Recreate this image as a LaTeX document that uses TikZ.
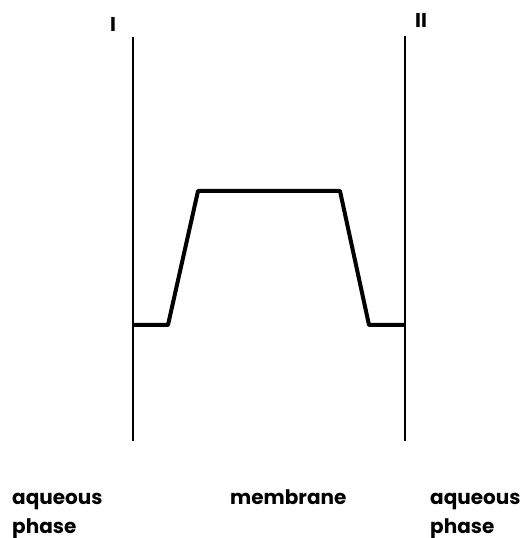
\documentclass[tikz,border=0pt]{standalone}
\usepackage{fontspec}
\setmainfont{Poppins}
\begin{document}
\begin{tikzpicture}[x=1pt,y=1pt,
  wall/.style={line width=2.4pt},
  profile/.style={line width=4pt,line join=round},
  lbl/.style={font=\fontsize{20}{24}\selectfont\bfseries,inner sep=0pt,anchor=base west,align=left},
  num/.style={font=\fontsize{20}{24}\selectfont\bfseries,inner sep=0pt,anchor=base}]
\useasboundingbox (0,0) rectangle (525,538);
% walls
\coordinate (Lt) at (133,501);
\coordinate (Lb) at (133,97);
\coordinate (Rt) at (405,502);
\coordinate (Rb) at (405,97);
\draw[wall] (Lt) -- (Lb);
\draw[wall] (Rt) -- (Rb);
% energy profile
\coordinate (p1) at (133,213);
\coordinate (p2) at (168,213);
\coordinate (p3) at (198,347);
\coordinate (p4) at (340,347);
\coordinate (p5) at (369,213);
\coordinate (p6) at (405,213);
\draw[profile] (p1) -- (p2) -- (p3) -- (p4) -- (p5) -- (p6);
% labels
\node[num] (nI) at (113,506) {I};
\node[num] (nII) at (421,510) {II};
\node[lbl] (aqL) at (12,33) {aqueous};
\node[lbl] (phL) at (12,5) {phase};
\node[lbl] (mem) at (230,33) {membrane};
\node[lbl] (aqR) at (430,33) {aqueous};
\node[lbl] (phR) at (430,5) {phase};
\end{tikzpicture}
\end{document}
